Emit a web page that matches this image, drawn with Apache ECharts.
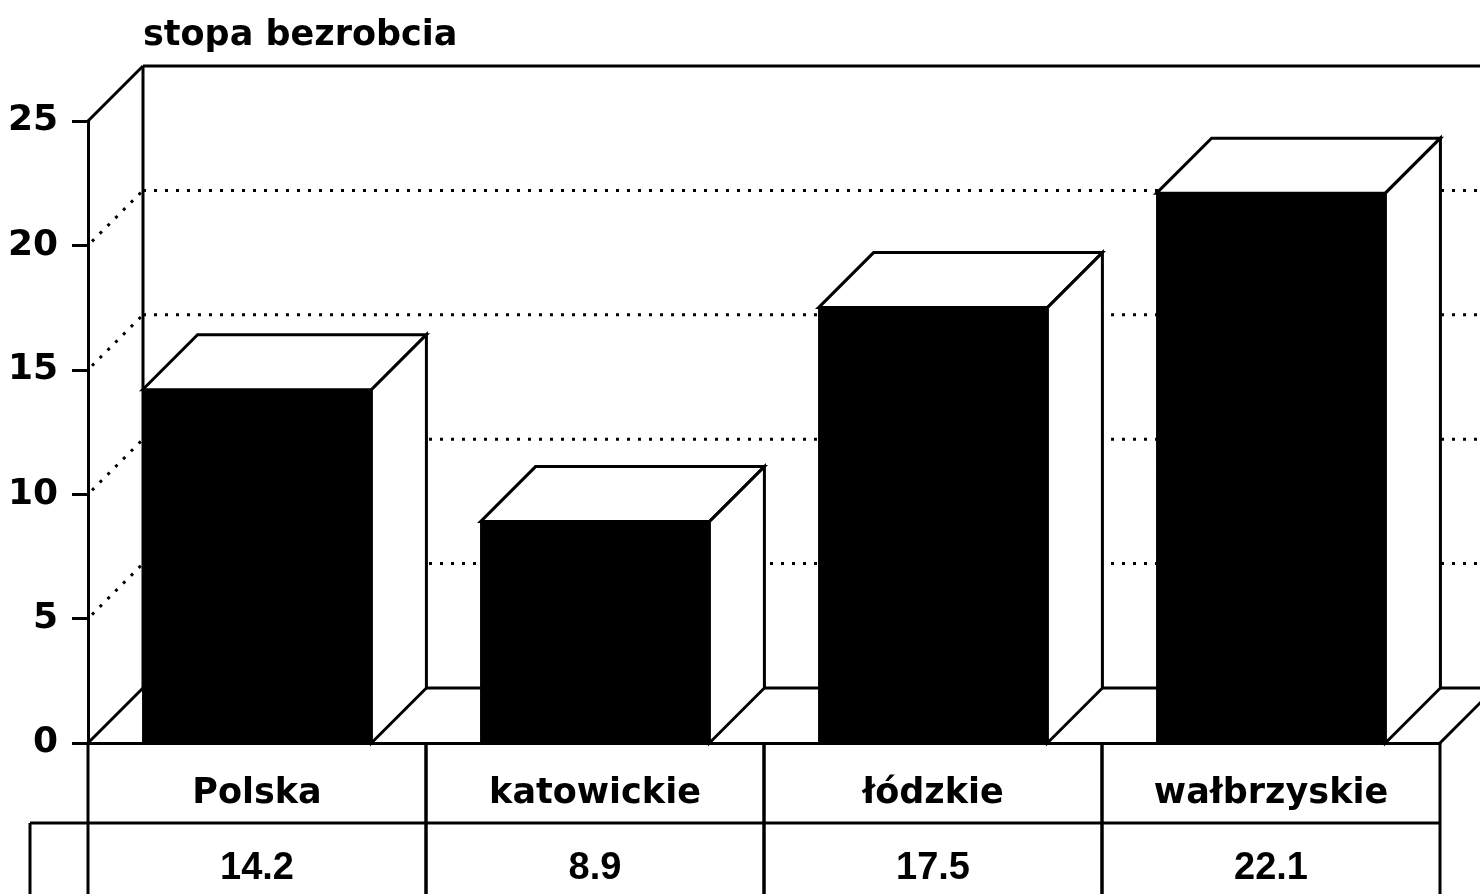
<!DOCTYPE html>
<html>
<head>
<meta charset="utf-8">
<title>stopa bezrobcia</title>
<script src="https://cdn.jsdelivr.net/npm/echarts@6/dist/echarts.min.js"></script>
<style>
  html, body { margin: 0; padding: 0; background: #fff; }
  #chart { width: 1480px; height: 894px; }
</style>
</head>
<body>
<div id="chart"></div>
<script>
  // data
  const categories = ['Polska', 'katowickie', 'łódzkie', 'wałbrzyskie'];
  const rates = [14.2, 8.9, 17.5, 22.1];
  const yTicks = [0, 5, 10, 15, 20, 25];

  // look
  const DEPTH = 55;      // 3d offset of the back wall / bar depth
  const LINE_W = 3;
  const BAR_RATIO = 0.677;
  const ROW_H = 80;
  const KEY_W = 58;      // empty legend cell left of the value row

  const chart = echarts.init(document.getElementById('chart'));

  const solid = { stroke: '#000', lineWidth: LINE_W, fill: null };
  const dotted = { stroke: '#000', lineWidth: 3, lineDash: [3, 8], fill: null };

  function seg(a, b, style) {
    return { type: 'line', shape: { x1: a[0], y1: a[1], x2: b[0], y2: b[1] }, style: style };
  }

  // walls, floor and grid lines on the back plane
  function renderFrame(params, api) {
    const cs = params.coordSys;
    const v = api.value(1);
    const x0 = cs.x, x1 = cs.x + cs.width;
    const y = api.coord([0, v])[1];
    const yZero = api.coord([0, 0])[1];
    const d = DEPTH;
    const top = yTicks[yTicks.length - 1];
    let children = [];
    if (v === 0) {
      children.push(seg([x0, y], [x0 + d, y - d], solid));
      children.push(seg([x0 + d, y - d], [x1 + d, y - d], solid));
      children.push(seg([x1, y], [x1 + d, y - d], solid));
    } else if (v === top) {
      children.push(seg([x0, y], [x0 + d, y - d], solid));
      children.push(seg([x0 + d, y - d], [x1 + d, y - d], solid));
      children.push(seg([x0 + d, y - d], [x0 + d, yZero - d], solid));
    } else {
      children.push(seg([x0 + 4, y - 4], [x0 + d, y - d], dotted));
      children.push(seg([x0 + d, y - d], [x1 + d, y - d], dotted));
    }
    return { type: 'group', children: children };
  }

  function renderBar(params, api) {
    const idx = api.value(0);
    const top = api.coord([idx, api.value(1)]);
    const base = api.coord([idx, 0]);
    const w = api.size([1, 0])[0] * BAR_RATIO;
    const L = top[0] - w / 2, R = top[0] + w / 2;
    const yt = top[1], yb = base[1], d = DEPTH;
    const face = { fill: '#fff', stroke: '#000', lineWidth: LINE_W, lineJoin: 'miter' };
    return {
      type: 'group',
      children: [
        { type: 'polygon', shape: { points: [[L, yt], [L + d, yt - d], [R + d, yt - d], [R, yt]] }, style: face },
        { type: 'polygon', shape: { points: [[R, yt], [R + d, yt - d], [R + d, yb - d], [R, yb]] }, style: face },
        { type: 'rect', shape: { x: L, y: yt, width: w, height: yb - yt }, style: { fill: '#000', stroke: '#000', lineWidth: 1 } }
      ]
    };
  }

  // data table under the axis
  function renderTable(params, api) {
    const idx = api.value(0);
    const c = api.coord([idx, 0]);
    const bw = api.size([1, 0])[0];
    const L = c[0] - bw / 2, R = c[0] + bw / 2;
    const y0 = c[1], y1 = y0 + ROW_H, y2 = y1 + ROW_H;
    let children = [
      seg([L, y0], [L, y2], solid),
      seg([R, y0], [R, y2], solid),
      seg([L, y1], [R, y1], solid),
      {
        type: 'text',
        style: {
          text: api.value(1).toFixed(1),
          x: c[0], y: y1 + 46,
          align: 'center', verticalAlign: 'middle',
          fontFamily: 'Liberation Sans', fontWeight: 'bold', fontSize: 38,
          fill: '#000'
        }
      }
    ];
    if (idx === 0) {
      children.push(seg([L - KEY_W, y1], [L, y1], solid));
      children.push(seg([L - KEY_W, y1], [L - KEY_W, y2], solid));
    }
    return { type: 'group', children: children };
  }

  const barData = rates.map((v, i) => [i, v]);

  let option = {
    animation: false,
    backgroundColor: '#fff',
    title: {
      text: 'stopa bezrobcia',
      left: 143,
      top: 18,
      padding: 0,
      textStyle: { fontFamily: 'DejaVu Sans', fontWeight: 'bold', fontSize: 35, color: '#000' }
    },
    grid: {
      left: 88,
      right: 40,
      top: 121,
      bottom: 151,
      outerBoundsMode: 'none'
    },
    xAxis: {
      type: 'category',
      data: categories,
      axisLine: { lineStyle: { color: '#000', width: LINE_W } },
      axisTick: { alignWithLabel: true, length: 15, lineStyle: { color: '#000', width: 2 } },
      axisLabel: {
        margin: 31,
        lineHeight: 40,
        color: '#000',
        fontFamily: 'DejaVu Sans',
        fontWeight: 'bold',
        fontSize: 35
      },
      splitLine: { show: false }
    },
    yAxis: {
      type: 'value',
      min: 0,
      max: 25,
      interval: 5,
      axisLine: { show: true, lineStyle: { color: '#000', width: LINE_W } },
      axisTick: { show: true, length: 16, lineStyle: { color: '#000', width: LINE_W } },
      axisLabel: {
        margin: 30,
        color: '#000',
        fontFamily: 'DejaVu Sans',
        fontWeight: 'bold',
        fontSize: 36
      },
      splitLine: { show: false }
    },
    series: [
      {
        name: 'frame',
        type: 'custom',
        renderItem: renderFrame,
        data: yTicks.map(v => [0, v]),
        encode: { x: 0, y: 1 },
        z: 1,
        silent: true
      },
      {
        name: 'stopa bezrobcia',
        type: 'custom',
        renderItem: renderBar,
        data: barData,
        encode: { x: 0, y: 1 },
        z: 2
      },
      {
        name: 'table',
        type: 'custom',
        renderItem: renderTable,
        data: barData,
        encode: { x: 0, y: 1 },
        z: 3,
        silent: true
      }
    ]
  };

  chart.setOption(option);
</script>
</body>
</html>
